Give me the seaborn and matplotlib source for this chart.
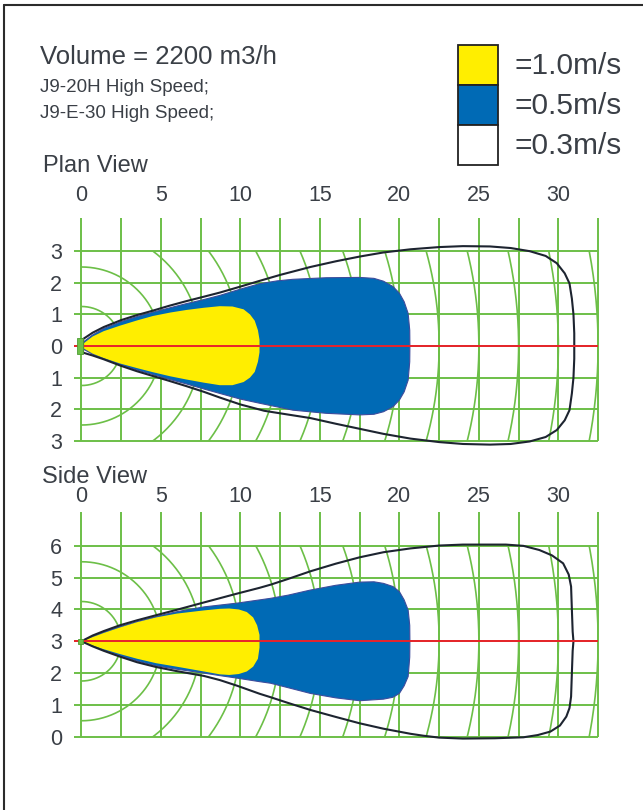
import numpy as np
import matplotlib
matplotlib.use("Agg")
import matplotlib.pyplot as plt
from matplotlib.patches import Rectangle
from matplotlib.lines import Line2D
import seaborn as sns

# ---- values (x = throw [m], y = spread [m]) ----
# plan view, 0.3 m/s envelope (black outline)
plan_03_x = [0.1, 0.7, 1.4, 2.5, 3.5, 4.5, 5.5, 6.6, 7.7, 8.7, 10.0, 11.2, 12.5, 14.4, 16.0,
             17.5, 19.0, 20.7, 22.5, 24.0, 25.7, 27.0, 28.2, 29.2, 29.9, 30.4, 30.7, 30.85,
             30.95, 31.0, 31.0, 31.0, 30.95, 30.85, 30.7, 30.4, 29.9, 29.2, 28.2, 27.0, 25.7,
             24.0, 22.5, 20.7, 19.0, 17.5, 16.0, 14.4, 12.5, 11.5, 10.0, 8.7, 7.7, 6.6, 5.5,
             4.5, 3.5, 2.5, 1.4, 0.7, 0.1, 0.1]
plan_03_y = [0.22, 0.42, 0.6, 0.82, 0.98, 1.12, 1.27, 1.42, 1.56, 1.69, 1.88, 2.06, 2.25, 2.5, 2.68,
             2.83, 2.96, 3.06, 3.13, 3.16, 3.15, 3.1, 3.0, 2.85, 2.62, 2.3, 1.98, 1.5,
             1.0, 0.4, 0.0, -0.4, -1.0, -1.5, -2.03, -2.35, -2.66, -2.88, -3.02, -3.1, -3.12,
             -3.1, -3.04, -2.93, -2.78, -2.62, -2.46, -2.28, -2.13, -2.05, -1.85, -1.63, -1.45, -1.27, -1.1,
             -0.95, -0.8, -0.63, -0.42, -0.3, -0.21, 0.22]
# plan view, 0.5 m/s zone (blue)
plan_05_x = [0.05, 0.7, 1.4, 2.5, 3.5, 4.5, 5.5, 6.6, 7.7, 8.7, 10.0, 11.2, 12.3, 13.3, 15.4,
             17.5, 18.4, 19.0, 19.6, 20.0, 20.3, 20.55, 20.65, 20.66, 20.65, 20.55, 20.3, 20.0,
             19.6, 19.0, 18.4, 17.5, 15.4, 13.3, 11.2, 10.0, 8.7, 7.7, 6.6, 5.5, 4.5, 3.5, 2.5,
             1.4, 0.7, 0.05]
plan_05_y = [0.1, 0.35, 0.55, 0.77, 0.93, 1.07, 1.2, 1.34, 1.47, 1.6, 1.8, 1.97, 2.06, 2.11, 2.16,
             2.17, 2.14, 2.05, 1.88, 1.67, 1.4, 1.03, 0.5, 0.0, -0.5, -1.08, -1.45, -1.71,
             -1.92, -2.08, -2.16, -2.18, -2.13, -2.03, -1.81, -1.68, -1.5, -1.36, -1.2, -1.05, -0.9, -0.76, -0.6,
             -0.4, -0.26, -0.08]
# plan view, 1.0 m/s zone (yellow)
plan_10_x = [0.05, 0.7, 1.4, 2.4, 3.5, 4.5, 5.6, 6.6, 7.7, 8.7, 9.5, 10.2, 10.6, 10.9, 11.1, 11.2,
             11.2, 11.2, 11.1, 10.9, 10.6, 10.2, 9.5, 8.7, 7.7, 6.6, 5.6, 4.5, 3.5, 2.4, 1.4,
             0.7, 0.05]
plan_10_y = [0.05, 0.3, 0.47, 0.64, 0.81, 0.95, 1.06, 1.14, 1.21, 1.26, 1.25, 1.16, 1.0, 0.8, 0.5, 0.2,
             0.0, -0.2, -0.5, -0.82, -1.0, -1.14, -1.24, -1.24, -1.16, -1.06, -0.96, -0.83, -0.7, -0.55, -0.38,
             -0.24, -0.05]

# side view, 0.3 m/s envelope (black outline), nozzle at height 3 m
side_03_x = [0.0, 0.7, 1.4, 2.4, 3.5, 4.7, 6.0, 7.7, 9.8, 11.2, 11.9, 13.0, 14.4, 16.0, 17.5,
             19.0, 20.7, 22.5, 24.0, 26.7, 27.8, 28.8, 29.6, 30.3, 30.65, 30.8, 30.85, 30.9,
             30.95, 30.9, 30.85, 30.8, 30.7, 30.5, 30.1, 29.5, 28.7, 27.8, 26.0, 24.0, 22.5,
             21.5, 20.7, 19.0, 17.5, 16.0, 14.4, 13.0, 11.9, 11.2, 9.8, 8.7, 7.7, 6.0, 4.7, 3.5,
             2.4, 1.4, 0.7, 0.0]
side_03_y = [3.0, 3.18, 3.32, 3.5, 3.66, 3.82, 3.99, 4.22, 4.5, 4.68, 4.78, 4.96, 5.2, 5.44, 5.64,
             5.8, 5.92, 6.01, 6.04, 6.04, 6.0, 5.87, 5.7, 5.45, 5.1, 4.72, 4.0, 3.3,
             3.0, 2.7, 2.0, 1.26, 0.9, 0.63, 0.35, 0.16, 0.05, -0.02, -0.05, -0.06, -0.03,
             0.03, 0.09, 0.25, 0.42, 0.62, 0.84, 1.06, 1.24, 1.35, 1.6, 1.78, 1.91, 2.06, 2.19, 2.34,
             2.52, 2.7, 2.84, 3.0]
# side view, 0.5 m/s zone (blue)
side_05_x = [0.0, 0.7, 1.4, 2.4, 3.5, 4.7, 6.0, 7.7, 9.8, 11.2, 11.9, 13.0, 14.4, 16.0, 17.5,
             18.4, 19.0, 19.6, 20.0, 20.3, 20.55, 20.65, 20.66, 20.65, 20.55, 20.3, 20.0, 19.6,
             19.0, 17.5, 16.0, 14.4, 13.0, 11.9, 11.2, 9.8, 8.7, 7.7, 6.0, 4.7, 3.5, 2.4, 1.4,
             0.7, 0.0]
side_05_y = [3.0, 3.15, 3.29, 3.46, 3.62, 3.78, 3.93, 4.08, 4.2, 4.3, 4.35, 4.45, 4.61, 4.76, 4.86,
             4.87, 4.82, 4.72, 4.56, 4.3, 3.98, 3.5, 3.0, 2.5, 1.89, 1.6, 1.36, 1.24,
             1.18, 1.13, 1.22, 1.36, 1.54, 1.68, 1.73, 1.84, 1.92, 2.0, 2.12, 2.23, 2.38, 2.55, 2.72,
             2.86, 3.0]
# side view, 1.0 m/s zone (yellow)
side_10_x = [0.0, 0.7, 1.4, 2.4, 3.5, 4.7, 6.0, 7.7, 8.7, 9.3, 9.9, 10.4, 10.8, 11.05, 11.2, 11.2,
             11.2, 11.1, 10.8, 10.4, 9.9, 9.3, 8.7, 7.7, 6.0, 4.7, 3.5, 2.4, 1.4, 0.7, 0.0]
side_10_y = [3.0, 3.13, 3.26, 3.43, 3.6, 3.75, 3.87, 3.97, 4.02, 4.03, 4.0, 3.92, 3.75, 3.5, 3.2, 3.0,
             2.8, 2.45, 2.2, 2.05, 1.97, 1.94, 1.96, 2.05, 2.2, 2.31, 2.45, 2.6, 2.75, 2.87, 3.0]

x_ticks = [0, 5, 10, 15, 20, 25, 30]
grid_x = [0, 2.5, 5, 7.5, 10, 12.5, 15, 17.5, 20, 22.5, 25, 27.5, 30, 32.5]
arc_radii = [2.5, 5, 7.5, 10, 12.5, 15, 17.5, 20, 22.5, 25, 27.5, 30, 32.5]
plan_y_ticks = [-3, -2, -1, 0, 1, 2, 3]
plan_y_labels = ["3", "2", "1", "0", "1", "2", "3"]
side_y_ticks = [0, 1, 2, 3, 4, 5, 6]
side_y_labels = ["0", "1", "2", "3", "4", "5", "6"]

legend_labels = ["=1.0m/s", "=0.5m/s", "=0.3m/s"]

YELLOW = "#FFEE00"
BLUE = "#006AB5"
BLUE_EDGE = "#3D4C9C"
GREEN = "#6CBF47"
RED = "#E8232B"
DARK = "#1D2430"
TEXT = "#3A3F46"

sns.set_theme(style="white")
plt.rcParams["font.family"] = ["Liberation Sans", "DejaVu Sans"]

W, H = 643, 810
fig = plt.figure(figsize=(W / 100, H / 100), dpi=100)


def px_axes(left, top, right, bottom):
    return fig.add_axes([left / W, 1 - bottom / H, (right - left) / W, (bottom - top) / H])


def draw_panel(ax, yc, y_lo, y_hi, outer, mid, core, yticks, ylabels, xpad):
    ax.set_xlim(-0.91, 33.5)
    # grid
    ax.vlines(grid_x, y_lo, y_hi + 1.05, color=GREEN, lw=1.4, zorder=1)
    ax.hlines(yticks, -0.5, 32.5, color=GREEN, lw=1.4, zorder=1)
    clip = Rectangle((0, y_lo), 32.5, y_hi - y_lo, transform=ax.transData,
                     fill=False, visible=False)
    ax.add_patch(clip)
    t = np.linspace(-np.pi / 2, np.pi / 2, 400)
    for r in arc_radii:
        ln, = ax.plot(r * np.cos(t), yc + r / 2 * np.sin(t), color=GREEN, lw=1.2, zorder=1)
        ln.set_clip_path(clip)
    # velocity zones
    ax.fill(mid[0], mid[1], facecolor=BLUE, edgecolor=BLUE_EDGE, lw=0.8,
            joinstyle="round", zorder=3)
    ax.fill(core[0], core[1], facecolor=YELLOW, edgecolor="none", zorder=4)
    sns.lineplot(x=outer[0], y=outer[1], sort=False, estimator=None, color=DARK,
                 lw=1.5, ax=ax, zorder=5, solid_joinstyle="round")
    ax.hlines([yc], -0.5, 32.5, color=RED, lw=1.4, zorder=6)
    # ticks
    ax.set_xticks(x_ticks)
    ax.set_xticklabels([str(v) for v in x_ticks])
    ax.set_yticks(yticks)
    ax.set_yticklabels(ylabels)
    ax.xaxis.tick_top()
    ax.tick_params(axis="x", length=0, pad=xpad, labelsize=15.5, labelcolor=TEXT)
    ax.tick_params(axis="y", length=0, pad=3.5, labelsize=15.5, labelcolor=TEXT)
    ax.set_xlabel("")
    ax.set_ylabel("")
    for s in ax.spines.values():
        s.set_visible(False)
    ax.set_facecolor("none")


ax_plan = px_axes(67, 210.1, 614, 450.3)
ax_plan.set_ylim(-3.3, 4.3)
draw_panel(ax_plan, 0, -3, 3, (plan_03_x, plan_03_y), (plan_05_x, plan_05_y),
           (plan_10_x, plan_10_y), plan_y_ticks, plan_y_labels, 3.2)
ax_plan.add_patch(Rectangle((-0.25, -0.26), 0.33, 0.5, facecolor=GREEN,
                            edgecolor="#4E9E33", lw=0.6, zorder=7))

ax_side = px_axes(67, 507.7, 614, 746.2)
ax_side.set_ylim(-0.3, 7.2)
draw_panel(ax_side, 3, 0, 6, (side_03_x, side_03_y), (side_05_x, side_05_y),
           (side_10_x, side_10_y), side_y_ticks, side_y_labels, 0.5)
ax_side.add_patch(Rectangle((-0.2, 2.92), 0.3, 0.16, facecolor=GREEN,
                            edgecolor="#4E9E33", lw=0.6, zorder=7))

# header texts
fig.text(40 / W, 1 - 57 / H, "Volume = 2200 m3/h", fontsize=18.5, color=TEXT, va="center")
fig.text(40 / W, 1 - 87 / H, "J9-20H High Speed;", fontsize=13.5, color=TEXT, va="center")
fig.text(40 / W, 1 - 113 / H, "J9-E-30 High Speed;", fontsize=13.5, color=TEXT, va="center")
fig.text(43 / W, 1 - 166 / H, "Plan View", fontsize=17, color=TEXT, va="center")
fig.text(42 / W, 1 - 477 / H, "Side View", fontsize=17, color=TEXT, va="center")

# legend boxes
for i, (c, lab) in enumerate(zip([YELLOW, BLUE, "white"], legend_labels)):
    top = 45 + 40 * i
    fig.add_artist(Rectangle((458 / W, 1 - (top + 40) / H), 40 / W, 40 / H,
                             transform=fig.transFigure, facecolor=c, edgecolor="#222222", lw=1.3))
    fig.text(514 / W, 1 - (top + 21) / H, lab, fontsize=21.5, color=TEXT, va="center")

# page frame
fig.add_artist(Line2D([4 / W, 1], [1 - 5 / H, 1 - 5 / H], transform=fig.transFigure,
                      color="#2B2B2B", lw=1.5))
fig.add_artist(Line2D([4 / W, 4 / W], [0, 1 - 5 / H], transform=fig.transFigure,
                      color="#2B2B2B", lw=1.5))

fig.savefig("out.png", dpi=100, facecolor="white")
